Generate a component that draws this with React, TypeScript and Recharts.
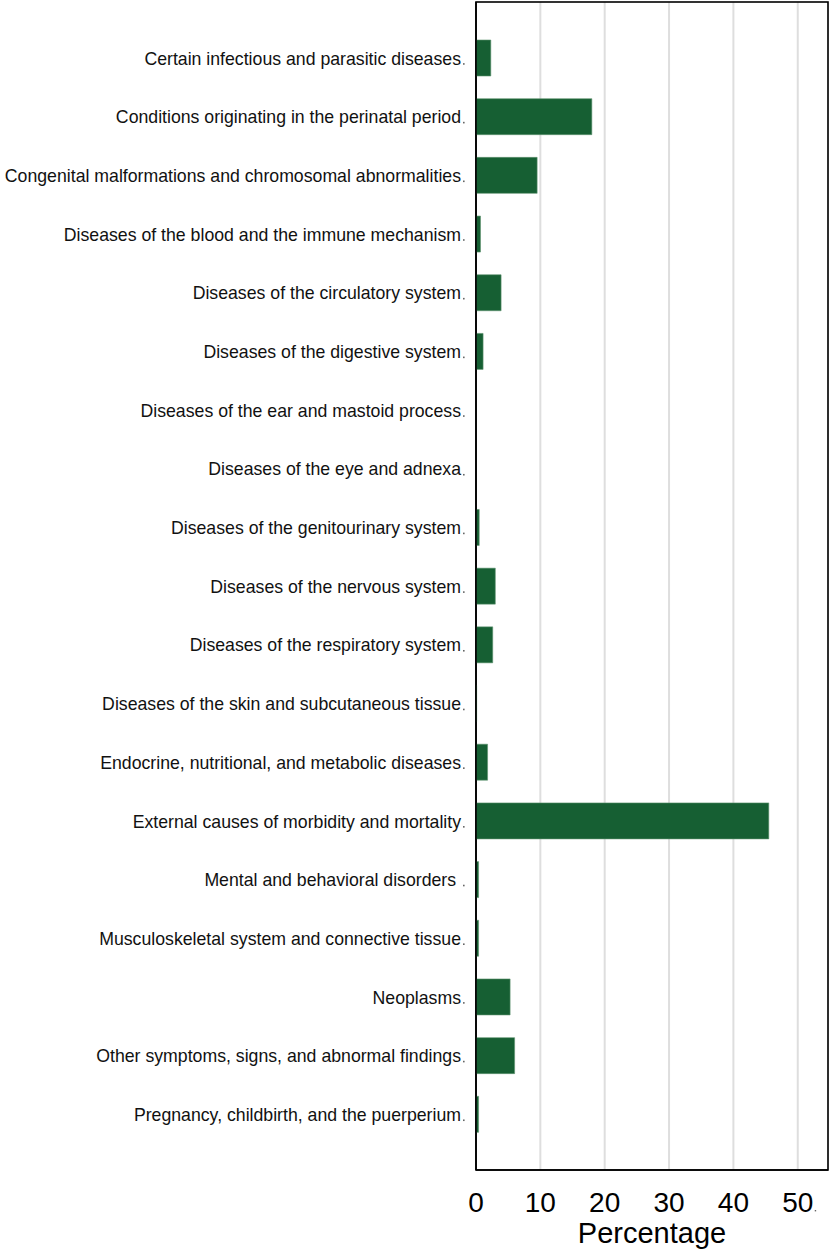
import { BarChart, Bar, XAxis, YAxis, CartesianGrid, usePlotArea } from "recharts";

const causes = [
  "Certain infectious and parasitic diseases",
  "Conditions originating in the perinatal period",
  "Congenital malformations and chromosomal abnormalities",
  "Diseases of the blood and the immune mechanism",
  "Diseases of the circulatory system",
  "Diseases of the digestive system",
  "Diseases of the ear and mastoid process",
  "Diseases of the eye and adnexa",
  "Diseases of the genitourinary system",
  "Diseases of the nervous system",
  "Diseases of the respiratory system",
  "Diseases of the skin and subcutaneous tissue",
  "Endocrine, nutritional, and metabolic diseases",
  "External causes of morbidity and mortality",
  "Mental and behavioral disorders ",
  "Musculoskeletal system and connective tissue",
  "Neoplasms",
  "Other symptoms, signs, and abnormal findings",
  "Pregnancy, childbirth, and the puerperium",
];

const percentage = [2.3, 18.0, 9.5, 0.7, 3.9, 1.1, 0, 0, 0.5, 3.0, 2.6, 0.1, 1.8, 45.5, 0.4, 0.4, 5.3, 6.0, 0.4];

const xTicks = [0, 10, 20, 30, 40, 50];

const data = causes.map((name, i) => ({ name, value: percentage[i] }));

const FONT = "Liberation Sans, Arial, Helvetica, sans-serif";

function CauseTick(props: any) {
  const { x, y, payload } = props;
  return (
    <g>
      <text
        x={x - 15}
        y={y}
        dy={6.3}
        textAnchor="end"
        fontSize={17.7}
        fontFamily={FONT}
        fill="#111"
        style={{ whiteSpace: "pre" }}
      >
        {payload.value}
      </text>
      <rect x={x - 13} y={y + 4.8} width={1.6} height={1.6} fill="#666" />
    </g>
  );
}

function PctTick(props: any) {
  const { x, y, payload } = props;
  return (
    <g>
      <text x={x} y={y + 42} textAnchor="middle" fontSize={28} fontFamily={FONT} fill="#000">
        {payload.value}
      </text>
      {payload.value === 50 && <rect x={x + 17} y={y + 40} width={1.4} height={1.4} fill="#666" />}
    </g>
  );
}

// outline of the plot region, like the boxed Stata plot
function Frame() {
  const area = usePlotArea();
  if (!area) return null;
  return (
    <rect
      x={area.x}
      y={area.y}
      width={area.width}
      height={area.height}
      fill="none"
      stroke="#000"
      strokeWidth={1.6}
    />
  );
}

export default function App() {
  return (
    <div style={{ position: "absolute", left: 0, top: 0, background: "#fff" }}>
      <BarChart
        width={830}
        height={1254}
        data={data}
        layout="vertical"
        margin={{ top: 2, right: 2, bottom: 0, left: 0 }}
      >
        <CartesianGrid horizontal={false} stroke="#dedede" strokeWidth={2} />
        <XAxis
          type="number"
          domain={[0, 54.7]}
          ticks={xTicks}
          allowDataOverflow
          height={84}
          tickLine={false}
          tickSize={0}
          tickMargin={0}
          axisLine={{ stroke: "#000", strokeWidth: 1.6 }}
          tick={<PctTick />}
          label={{ value: "Percentage", position: "insideBottom", offset: 11, fontSize: 29, fill: "#000", fontFamily: FONT }}
        />
        <YAxis
          type="category"
          dataKey="name"
          width={476}
          interval={0}
          padding={{ top: 27, bottom: 26 }}
          tickLine={false}
          tickSize={0}
          tickMargin={0}
          axisLine={{ stroke: "#000", strokeWidth: 1.6 }}
          tick={<CauseTick />}
        />
        <Bar
          dataKey="value"
          fill="#165f33"
          stroke="#5f9470"
          strokeWidth={0.6}
          barSize={36}
          isAnimationActive={false}
        />
        <Frame />
      </BarChart>
    </div>
  );
}
